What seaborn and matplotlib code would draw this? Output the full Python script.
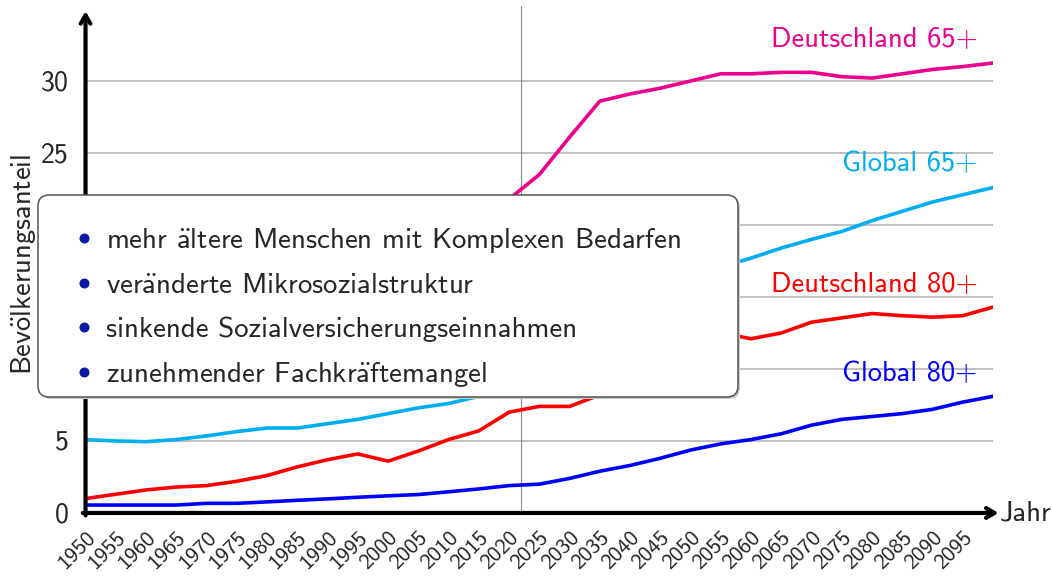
import pandas as pd
import seaborn as sns
import matplotlib.pyplot as plt
from matplotlib.patches import FancyBboxPatch
from matplotlib.lines import Line2D
from matplotlib.transforms import IdentityTransform, ScaledTranslation

# Werte (teilweise vom Kasten verdeckt -> geschätzt)
years = list(range(1950, 2101, 5))
de_65 = [9.7, 10.6, 11.5, 12.5, 13.5, 14.8, 15.6, 14.5, 15.0, 15.5, 16.4, 18.9, 20.6, 21.1, 21.8,
         23.5, 26.1, 28.6, 29.1, 29.5, 30.0, 30.5, 30.5, 30.6, 30.6, 30.3, 30.2, 30.5, 30.8, 31.0, 31.25]
gl_65 = [5.1, 5.0, 4.95, 5.1, 5.35, 5.65, 5.9, 5.9, 6.2, 6.5, 6.9, 7.3, 7.6, 8.1, 9.3,
         10.4, 11.7, 12.9, 14.0, 15.0, 16.0, 17.1, 17.7, 18.4, 19.0, 19.55, 20.3, 20.95, 21.6, 22.1, 22.6]
de_80 = [1.0, 1.3, 1.6, 1.8, 1.9, 2.2, 2.6, 3.2, 3.7, 4.1, 3.6, 4.3, 5.1, 5.7, 7.0,
         7.4, 7.4, 8.2, 9.3, 10.5, 11.8, 12.5, 12.1, 12.5, 13.25, 13.55, 13.85, 13.7, 13.6, 13.7, 14.3]
gl_80 = [0.55, 0.55, 0.55, 0.55, 0.67, 0.67, 0.77, 0.88, 0.98, 1.09, 1.19, 1.28, 1.47, 1.67, 1.9,
         2.0, 2.4, 2.9, 3.3, 3.8, 4.37, 4.8, 5.1, 5.5, 6.1, 6.5, 6.7, 6.9, 7.2, 7.7, 8.1]

series_names = ['Deutschland 65+', 'Global 65+', 'Deutschland 80+', 'Global 80+']
series_colors = ['#EC008C', '#00AEEF', '#FF0000', '#0000FF']
label_y = [32.9, 24.3, 15.9, 9.7]

# Umlaute per Mathtext, damit sie in der CM-Sans-Schrift erscheinen
AE = r'$\mathsf{\ddot{a}}$'
OE = r'$\mathsf{\ddot{o}}$'
bullets = ['mehr ' + AE + 'ltere Menschen mit Komplexen Bedarfen',
           'ver' + AE + 'nderte Mikrosozialstruktur',
           'sinkende Sozialversicherungseinnahmen',
           'zunehmender Fachkr' + AE + 'ftemangel']
y_label = 'Bev' + OE + 'lkerungsanteil'

tick_years = list(range(1950, 2100, 5))
y_ticks = [0, 5, 10, 15, 20, 25, 30]
marker_year = 2022

df = pd.DataFrame({
    'Jahr': years * 4,
    'Anteil': de_65 + gl_65 + de_80 + gl_80,
    'Reihe': [n for n in series_names for _ in years],
})

sns.set_style('white')
plt.rcParams['font.family'] = ['cmss10', 'DejaVu Sans']
plt.rcParams['mathtext.fontset'] = 'cm'
plt.rcParams['axes.unicode_minus'] = False

fig = plt.figure(figsize=(10.52, 5.78), dpi=100)
ax = fig.add_axes([0.0813, 0.1125, 0.8627, 0.8595])

for yv in y_ticks[1:]:
    ax.axhline(yv, color='#b4b4b4', lw=1.2, zorder=1)
ax.axvline(marker_year, ymin=0, ymax=1.02, color='#8a8a8a', lw=0.8, zorder=1, clip_on=False)

sns.lineplot(data=df, x='Jahr', y='Anteil', hue='Reihe', hue_order=series_names,
             palette=series_colors, linewidth=2.6, legend=False, ax=ax, zorder=3)

for name, col, yl in zip(series_names, series_colors, label_y):
    ax.text(2097.4, yl, name, color=col, fontsize=20.5, ha='right', va='center')

ax.set_xlim(1950, 2100)
ax.set_ylim(0, 34.5)
ax.set_xticks(tick_years)
ax.set_xticklabels([str(t) for t in tick_years], rotation=45, ha='right', va='top',
                   rotation_mode='anchor', fontsize=16)
shift = ScaledTranslation(7 / 100, 0, fig.dpi_scale_trans)
for lab in ax.get_xticklabels():
    lab.set_transform(lab.get_transform() + shift)
ax.set_yticks(y_ticks)
ax.set_yticklabels([str(t) for t in y_ticks], fontsize=20)
ax.tick_params(axis='x', direction='out', length=3.6, width=1, color='black', pad=7)
ax.tick_params(axis='y', direction='out', length=3.6, width=1, color='black', pad=8.6)
ax.set_xlabel('')
ax.set_ylabel(y_label, fontsize=20.5, labelpad=2)
for s in ax.spines.values():
    s.set_visible(False)

# Achsen als Pfeile
arrow = dict(arrowstyle='->,head_length=0.6,head_width=0.35', lw=3, color='black',
             shrinkA=0, shrinkB=0)
ax.annotate('', xy=(0, 1.01), xytext=(0, -0.005), xycoords='axes fraction',
            arrowprops=arrow, annotation_clip=False)
ax.annotate('', xy=(1.006, 0), xytext=(-0.003, 0), xycoords='axes fraction',
            arrowprops=arrow, annotation_clip=False)
ax.text(1.007, 0, 'Jahr', transform=ax.transAxes, fontsize=20.5, ha='left', va='center')

# Kasten mit Stichpunkten (Pixelkoordinaten)
H = 578
shadow = FancyBboxPatch((40, H - 399), 700, 202, boxstyle='round,pad=0,rounding_size=11',
                        transform=IdentityTransform(), facecolor='#c8c8c8', edgecolor='none', zorder=4)
box = FancyBboxPatch((38, H - 397), 700, 202, boxstyle='round,pad=0,rounding_size=11',
                     transform=IdentityTransform(), facecolor='white', edgecolor='#555555',
                     lw=1.1, zorder=5)
fig.add_artist(shadow)
fig.add_artist(box)
for i, item in enumerate(bullets):
    base = 248.3 + i * 44.5
    fig.add_artist(Line2D([84 / 1052], [1 - (base - 10) / H], marker='o', markersize=6.2,
                          color='#0a1aa5', transform=fig.transFigure, zorder=6))
    fig.text(106 / 1052, 1 - base / H, item, fontsize=20.8, ha='left', va='baseline', zorder=6)

fig.savefig('out.png', dpi=100)
